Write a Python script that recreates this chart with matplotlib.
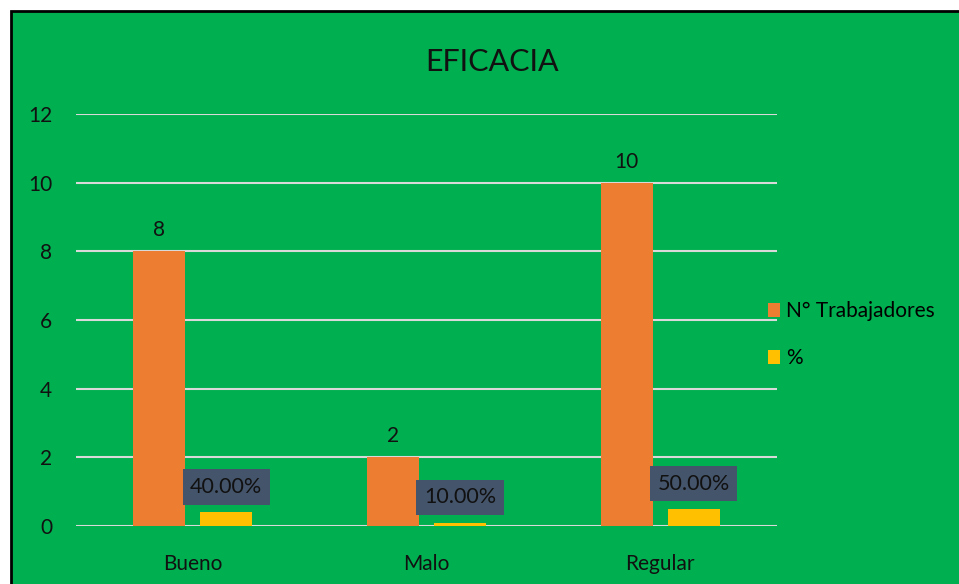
import matplotlib
matplotlib.use("Agg")
import matplotlib.pyplot as plt
from matplotlib.patches import Rectangle
import numpy as np

categories = ["Bueno", "Malo", "Regular"]
trabajadores = [8, 2, 10]
porcentaje = [0.40, 0.10, 0.50]
pct_labels = ["40.00%", "10.00%", "50.00%"]
yticks = [0, 2, 4, 6, 8, 10, 12]

GREEN = "#00B050"
ORANGE = "#ED7D31"
YELLOW = "#FFC000"
BOX = "#44546A"
GRID = "#D9D9D9"

plt.rcParams["font.family"] = ["Lato", "DejaVu Sans"]

fig = plt.figure(figsize=(9.59, 5.84), dpi=100)
fig.patch.set_facecolor("white")
bg = Rectangle((11 / 959, -0.01), 1.0, 1 - 11 / 584 + 0.01,
               transform=fig.transFigure, facecolor=GREEN,
               edgecolor="black", lw=2, zorder=-10)
fig.add_artist(bg)

ax = fig.add_axes([76 / 959, 1 - 526 / 584, 701 / 959, 412 / 584])
ax.set_facecolor("none")

x = np.arange(len(categories))
w = 0.222
off = 0.143
ax.bar(x - off, trabajadores, w, color=ORANGE, label="N° Trabajadores", zorder=3)
ax.bar(x + off, porcentaje, w, color=YELLOW, label="%", zorder=3)

for xi, v in zip(x, trabajadores):
    ax.annotate(str(v), (xi - off, v), xytext=(0, 8), textcoords="offset points",
                ha="center", va="bottom", fontsize=15, color="#111111")
for xi, v, lab in zip(x, porcentaje, pct_labels):
    ax.annotate(lab, (xi + off, v), xytext=(0, 11), textcoords="offset points",
                ha="center", va="bottom", fontsize=15.5, color="#111111",
                bbox=dict(boxstyle="square,pad=0.35", facecolor=BOX, edgecolor="none"))

ax.set_xlim(-0.5, 2.5)
ax.set_ylim(0, 12)
ax.set_yticks(yticks)
ax.set_xticks(x)
ax.set_xticklabels(categories)
ax.yaxis.grid(True, color=GRID, lw=1.5, zorder=1)
ax.set_axisbelow(True)
for s in ax.spines.values():
    s.set_visible(False)
ax.tick_params(axis="both", length=0, labelsize=15, colors="#111111")
ax.tick_params(axis="y", pad=17)
ax.tick_params(axis="x", pad=20)

fig.text(492 / 959, 1 - 62 / 584, "EFICACIA", ha="center", va="center",
         fontsize=22, color="#111111")

leg = ax.legend(loc="center left", bbox_to_anchor=(0.96, 0.464), frameon=False,
                fontsize=15, handlelength=0.6, handleheight=0.6,
                handletextpad=0.3, labelspacing=1.3)

fig.savefig("out.png", dpi=100)
